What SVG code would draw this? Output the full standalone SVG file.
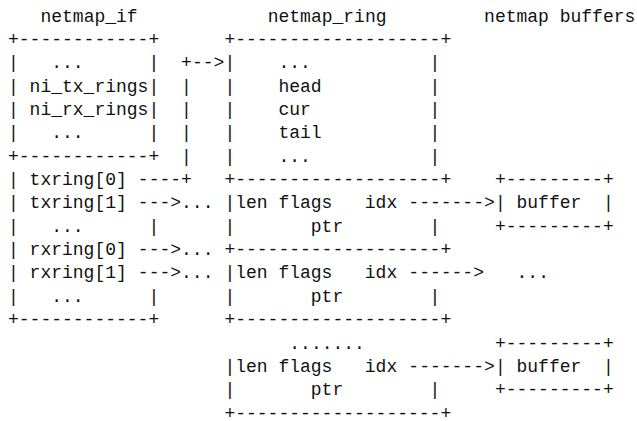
<svg xmlns="http://www.w3.org/2000/svg" width="637" height="421" viewBox="0 0 637 421" xml:space="preserve">
  <style>
    text { font-family: "Liberation Mono", "DejaVu Sans Mono", monospace; font-size: 18px; fill: #111; white-space: pre; }
  </style>
  <rect x="0" y="0" width="637" height="421" fill="#ffffff"/>

  <!-- netmap_if structure -->
  <g id="netmap_if">
    <text x="40.46" y="21.6">netmap_if</text>
    <text x="8" y="44.95">+------------+</text>
    <text x="8" y="68.3">|   ...      |</text>
    <text x="8" y="91.65">| ni_tx_rings|</text>
    <text x="8" y="115">| ni_rx_rings|</text>
    <text x="8" y="138.35">|   ...      |</text>
    <text x="8" y="161.7">+------------+</text>
    <text x="8" y="185.05">| txring[0]</text>
    <text x="8" y="208.4">| txring[1]</text>
    <text x="8" y="231.75">|   ...      |</text>
    <text x="8" y="255.1">| rxring[0]</text>
    <text x="8" y="278.45">| rxring[1]</text>
    <text x="8" y="301.8">|   ...      |</text>
    <text x="8" y="325.15">+------------+</text>
  </g>

  <!-- netmap_ring header and slot array -->
  <g id="netmap_ring">
    <text x="267.68" y="21.6">netmap_ring</text>
    <text x="224.4" y="44.95">+-------------------+</text>
    <text x="224.4" y="68.3">|    ...           |</text>
    <text x="224.4" y="91.65">|    head          |</text>
    <text x="224.4" y="115">|    cur           |</text>
    <text x="224.4" y="138.35">|    tail          |</text>
    <text x="224.4" y="161.7">|    ...           |</text>
    <text x="224.4" y="185.05">+-------------------+</text>
    <text x="224.4" y="208.4">|len flags   idx</text>
    <text x="224.4" y="231.75">|       ptr        |</text>
    <text x="224.4" y="255.1">+-------------------+</text>
    <text x="224.4" y="278.45">|len flags   idx</text>
    <text x="224.4" y="301.8">|       ptr        |</text>
    <text x="224.4" y="325.15">+-------------------+</text>
    <text x="289.32" y="348.5">.......</text>
    <text x="224.4" y="371.85">|len flags   idx</text>
    <text x="224.4" y="395.2">|       ptr        |</text>
    <text x="224.4" y="418.55">+-------------------+</text>
  </g>

  <!-- packet buffers -->
  <g id="netmap_buffers">
    <text x="484.08" y="21.6">netmap buffers</text>
    <text x="494.9" y="185.05">+---------+</text>
    <text x="494.9" y="208.4">| buffer  |</text>
    <text x="494.9" y="231.75">+---------+</text>
    <text x="516.54" y="278.45">...</text>
    <text x="494.9" y="348.5">+---------+</text>
    <text x="494.9" y="371.85">| buffer  |</text>
    <text x="494.9" y="395.2">+---------+</text>
  </g>

  <!-- arrows between the structures -->
  <g id="connectors">
    <text x="181.12" y="68.3">+--&gt;</text>
    <text x="181.12" y="91.65">|</text>
    <text x="181.12" y="115">|</text>
    <text x="181.12" y="138.35">|</text>
    <text x="181.12" y="161.7">|</text>
    <text x="137.84" y="185.05">----+</text>
    <text x="137.84" y="208.4">---&gt;...</text>
    <text x="137.84" y="255.1">---&gt;...</text>
    <text x="137.84" y="278.45">---&gt;...</text>
    <text x="408.34" y="208.4">-------&gt;</text>
    <text x="408.34" y="278.45">------&gt;</text>
    <text x="408.34" y="371.85">-------&gt;</text>
  </g>
</svg>
